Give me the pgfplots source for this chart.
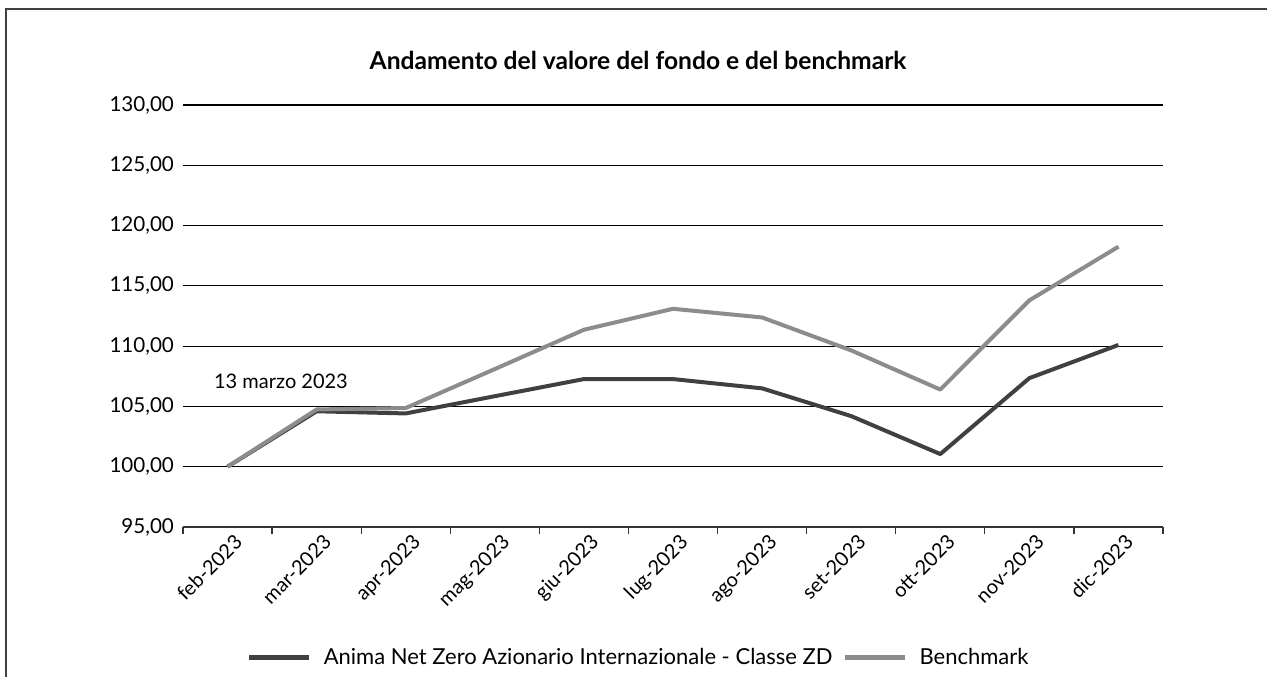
\documentclass[border=0pt]{standalone}
\usepackage{pgfplots}
\pgfplotsset{compat=1.18}
\usepackage{fontspec}
\setmainfont{Lato}
\definecolor{fondo}{HTML}{404040}
\definecolor{bench}{HTML}{8C8C8C}
\begin{document}
\begin{tikzpicture}
\path[use as bounding box] (-91.5pt,-75pt) rectangle (542pt,263.5pt);
\draw[black!75, line width=0.7pt] (-88.5pt,-75pt) -- (-88.5pt,259pt) -- (542pt,259pt);
\node[font=\fontsize{12.3}{14}\selectfont\bfseries] at (227.5pt,233.5pt) {Andamento del valore del fondo e del benchmark};
\begin{axis}[
  scale only axis,
  width=490pt, height=211pt,
  xmin=-0.5, xmax=10.5,
  ymin=95, ymax=130,
  ytick={95,100,...,130},
  xtick={-0.5,0.5,...,10.5},
  xticklabels={},
  major tick length=3.5pt,
  x tick style={black!80, line width=0.6pt},
  xtick align=outside,
  extra x ticks={0,...,10},
  extra x tick labels={feb-2023,mar-2023,apr-2023,mag-2023,giu-2023,lug-2023,ago-2023,set-2023,ott-2023,nov-2023,dic-2023},
  extra x tick style={major tick length=0pt, grid=none},
  xticklabel style={rotate=45, anchor=north east, font=\fontsize{10}{12}\selectfont, inner sep=1pt, xshift=1pt, yshift=-3pt},
  yticklabel style={font=\fontsize{10.3}{12}\selectfont, xshift=-1pt},
  y tick style={draw=none},
  ymajorgrids,
  grid style={black, line width=0.55pt},
  axis x line*=bottom,
  axis y line*=left,
  y axis line style={draw=none},
  x axis line style={black!80, line width=0.6pt, -},
  /pgf/number format/.cd, fixed, fixed zerofill, precision=2, use comma, 1000 sep={}, assume math mode=true,
  /pgfplots/.cd,
  legend style={at={(0.466,-0.31)}, anchor=center, draw=none, legend columns=2, font=\fontsize{11}{13}\selectfont, column sep=4pt, /tikz/every even column/.append style={column sep=3pt}},
  legend image code/.code={\draw[#1, line width=2.5pt] (0pt,0pt) -- (30pt,0pt);},
  clip=false,
]
\addplot[fondo, line width=2pt, line join=round] coordinates {
(0,100) (1,104.6) (2,104.42) (3,105.85) (4,107.27) (5,107.27) (6,106.5) (7,104.2) (8,101.05) (9,107.35) (10,110.1)};
\addlegendentry{Anima Net Zero Azionario Internazionale - Classe ZD}
\addplot[bench, line width=2pt, line join=round] coordinates {
(0,100) (1,104.75) (2,104.87) (3,108.1) (4,111.36) (5,113.1) (6,112.38) (7,109.65) (8,106.4) (9,113.8) (10,118.25)};
\addlegendentry{Benchmark}
\node[font=\fontsize{10}{12}\selectfont] at (axis cs:0.6,107.1) {13 marzo 2023};
\end{axis}
\end{tikzpicture}
\end{document}
